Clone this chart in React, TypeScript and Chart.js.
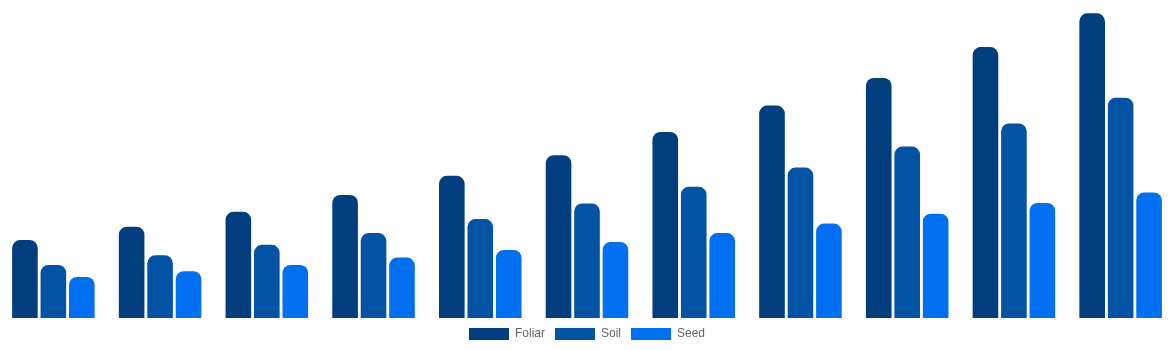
import React, { useEffect, useRef } from "react";
import { Chart, registerables } from "chart.js";

Chart.register(...registerables);

const categories = ["2024", "2025", "2026", "2027", "2028", "2029", "2030", "2031", "2032", "2033", "2034"];
const foliar = [2.45, 2.87, 3.34, 3.87, 4.47, 5.12, 5.85, 6.68, 7.55, 8.52, 9.58];
const soil = [1.67, 1.97, 2.3, 2.67, 3.11, 3.6, 4.13, 4.73, 5.39, 6.12, 6.93];
const seed = [1.29, 1.47, 1.67, 1.9, 2.14, 2.39, 2.67, 2.97, 3.28, 3.62, 3.95];
const seriesNames = ["Foliar", "Soil", "Seed"];
const seriesColors = ["#023e7d", "#0353a4", "#006ff0"];

export default function App() {
  const ref = useRef<HTMLCanvasElement | null>(null);
  useEffect(() => {
    document.body.style.margin = "0";
    if (!ref.current) return;
    const values = [foliar, soil, seed];
    const chart = new Chart(ref.current, {
      type: "bar",
      data: {
        labels: categories,
        datasets: values.map((v, i) => ({
          label: seriesNames[i],
          data: v,
          backgroundColor: seriesColors[i],
          borderRadius: { topLeft: 8, topRight: 8, bottomLeft: 0, bottomRight: 0 },
          borderSkipped: false,
        })),
      },
      options: {
        animation: false,
        responsive: true,
        maintainAspectRatio: false,
        layout: { padding: 0 },
        scales: {
          x: { display: false },
          y: { display: false, min: 0, max: 10 },
        },
        plugins: {
          legend: { position: "bottom" },
          tooltip: { enabled: true },
        },
      },
    });
    return () => chart.destroy();
  }, []);
  return (
    <div style={{ width: 1174, height: 350, position: "relative" }}>
      <canvas ref={ref} />
    </div>
  );
}
